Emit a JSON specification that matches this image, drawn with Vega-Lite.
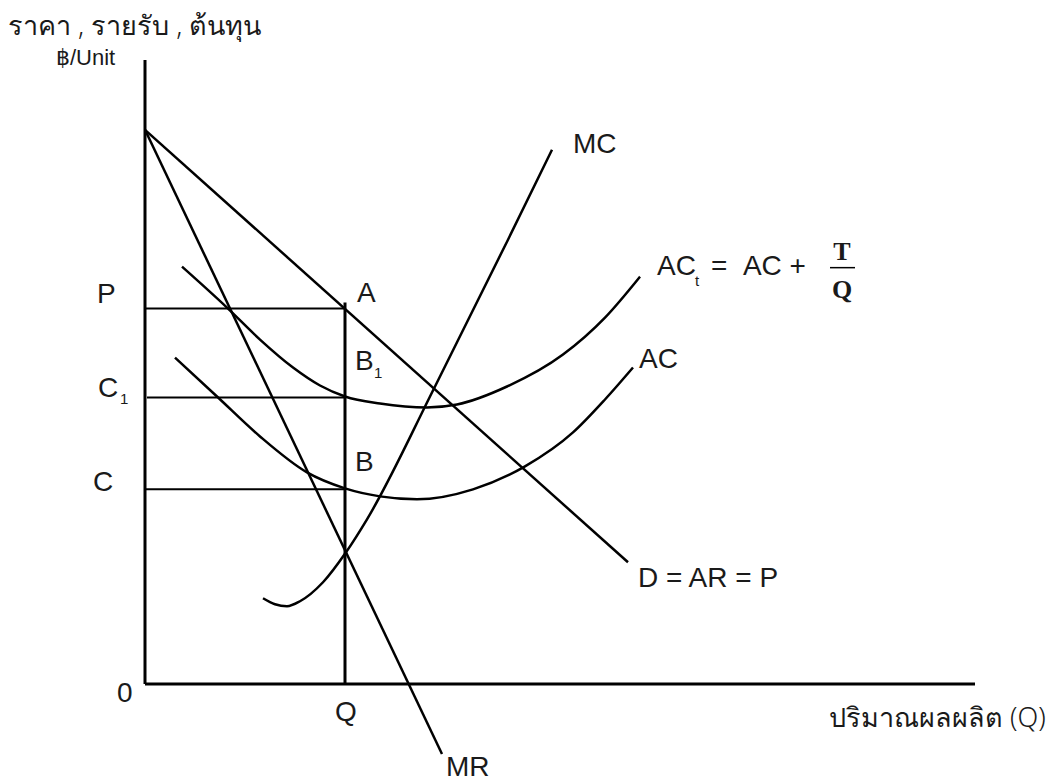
{
  "$schema": "https://vega.github.io/schema/vega-lite/v6.json",
  "width": 1059,
  "height": 782,
  "autosize": {"type": "fit", "contains": "padding"},
  "padding": 0,
  "background": "white",
  "config": {"view": {"stroke": null}},
  "datasets": {
    "segs": [
      {"name": "yaxis", "kind": "axis", "x1": 0, "y1": 0, "x2": 0, "y2": 625},
      {"name": "xaxis", "kind": "axis", "x1": 0, "y1": 0, "x2": 830, "y2": 0},
      {"name": "Qline", "kind": "axis", "x1": 200, "y1": 0, "x2": 200, "y2": 382},
      {"name": "Pline", "kind": "guide", "x1": 0, "y1": 376, "x2": 200, "y2": 376},
      {"name": "C1line", "kind": "guide", "x1": 2, "y1": 287, "x2": 200, "y2": 287},
      {"name": "Cline", "kind": "guide", "x1": 0, "y1": 195, "x2": 200, "y2": 195},
      {"name": "D", "kind": "curve", "x1": 0, "y1": 555, "x2": 483, "y2": 122},
      {"name": "MR", "kind": "curve", "x1": 0, "y1": 555, "x2": 297, "y2": -70},
      {"name": "bar", "kind": "frac", "x1": 685, "y1": 417, "x2": 710, "y2": 417}
    ],
    "curves": [
      {"series": "ACt", "i": 0, "x": 37, "y": 418},
      {"series": "ACt", "i": 1, "x": 82, "y": 377},
      {"series": "ACt", "i": 2, "x": 115, "y": 345},
      {"series": "ACt", "i": 3, "x": 148, "y": 317},
      {"series": "ACt", "i": 4, "x": 175, "y": 299},
      {"series": "ACt", "i": 5, "x": 200, "y": 288},
      {"series": "ACt", "i": 6, "x": 235, "y": 281},
      {"series": "ACt", "i": 7, "x": 282, "y": 277},
      {"series": "ACt", "i": 8, "x": 312, "y": 280},
      {"series": "ACt", "i": 9, "x": 362, "y": 298},
      {"series": "ACt", "i": 10, "x": 418, "y": 330},
      {"series": "ACt", "i": 11, "x": 460, "y": 367},
      {"series": "ACt", "i": 12, "x": 495, "y": 408},
      {"series": "AC", "i": 0, "x": 30, "y": 327},
      {"series": "AC", "i": 1, "x": 72, "y": 288},
      {"series": "AC", "i": 2, "x": 115, "y": 248},
      {"series": "AC", "i": 3, "x": 162, "y": 212},
      {"series": "AC", "i": 4, "x": 200, "y": 196},
      {"series": "AC", "i": 5, "x": 235, "y": 188},
      {"series": "AC", "i": 6, "x": 272, "y": 185},
      {"series": "AC", "i": 7, "x": 328, "y": 195},
      {"series": "AC", "i": 8, "x": 380, "y": 218},
      {"series": "AC", "i": 9, "x": 428, "y": 252},
      {"series": "AC", "i": 10, "x": 460, "y": 285},
      {"series": "AC", "i": 11, "x": 488, "y": 317},
      {"series": "MC", "i": 0, "x": 118, "y": 86},
      {"series": "MC", "i": 1, "x": 130, "y": 80},
      {"series": "MC", "i": 2, "x": 142, "y": 78},
      {"series": "MC", "i": 3, "x": 155, "y": 83},
      {"series": "MC", "i": 4, "x": 178, "y": 102},
      {"series": "MC", "i": 5, "x": 201, "y": 132},
      {"series": "MC", "i": 6, "x": 222, "y": 165},
      {"series": "MC", "i": 7, "x": 290, "y": 298},
      {"series": "MC", "i": 8, "x": 363, "y": 445},
      {"series": "MC", "i": 9, "x": 407, "y": 535}
    ],
    "labels": [
      {"label": "MC", "x": 428, "y": 532},
      {"label": "AC", "x": 512, "y": 410},
      {"label": "=\u00a0\u00a0AC +", "x": 566, "y": 410},
      {"label": "AC", "x": 494, "y": 317},
      {"label": "D = AR = P", "x": 493, "y": 97},
      {"label": "A", "x": 212, "y": 383},
      {"label": "B", "x": 210, "y": 315},
      {"label": "C", "x": -47, "y": 287},
      {"label": "P", "x": -48, "y": 382},
      {"label": "C", "x": -52, "y": 193},
      {"label": "B", "x": 210, "y": 213},
      {"label": "0", "x": -28, "y": -18},
      {"label": "Q", "x": 190, "y": -37},
      {"label": "MR", "x": 301, "y": -92}
    ],
    "subs": [
      {"label": "t", "x": 550, "y": 399},
      {"label": "1", "x": 229, "y": 307},
      {"label": "1", "x": -25, "y": 280}
    ],
    "thai": [
      {"label": "ราคา , รายรับ , ต้นทุน", "x": -137, "y": 650},
      {"label": "ปริมาณผลผลิต (Q)", "x": 684, "y": -43}
    ],
    "unit": [
      {"label": "฿/Unit", "x": -89, "y": 620}
    ],
    "frac": [
      {"label": "T", "x": 697, "y": 425},
      {"label": "Q", "x": 697, "y": 387}
    ]
  },
  "layer": [
    {
      "data": {"name": "segs"},
      "transform": [{"filter": "datum.kind === 'axis'"}],
      "mark": {"type": "rule", "strokeWidth": 3, "color": "black"},
      "encoding": {
        "x": {"field": "x1", "type": "quantitative", "scale": {"domain": [-145, 914], "nice": false, "zero": false}, "axis": null},
        "y": {"field": "y1", "type": "quantitative", "scale": {"domain": [-97, 685], "nice": false, "zero": false}, "axis": null},
        "x2": {"field": "x2"},
        "y2": {"field": "y2"}
      }
    },
    {
      "data": {"name": "segs"},
      "transform": [{"filter": "datum.kind === 'guide'"}],
      "mark": {"type": "rule", "strokeWidth": 2, "color": "black"},
      "encoding": {
        "x": {"field": "x1", "type": "quantitative"},
        "y": {"field": "y1", "type": "quantitative"},
        "x2": {"field": "x2"},
        "y2": {"field": "y2"}
      }
    },
    {
      "data": {"name": "segs"},
      "transform": [{"filter": "datum.kind === 'curve'"}],
      "mark": {"type": "rule", "strokeWidth": 2.5, "color": "black"},
      "encoding": {
        "x": {"field": "x1", "type": "quantitative"},
        "y": {"field": "y1", "type": "quantitative"},
        "x2": {"field": "x2"},
        "y2": {"field": "y2"}
      }
    },
    {
      "data": {"name": "segs"},
      "transform": [{"filter": "datum.kind === 'frac'"}],
      "mark": {"type": "rule", "strokeWidth": 1.5, "color": "black"},
      "encoding": {
        "x": {"field": "x1", "type": "quantitative"},
        "y": {"field": "y1", "type": "quantitative"},
        "x2": {"field": "x2"},
        "y2": {"field": "y2"}
      }
    },
    {
      "data": {"name": "curves"},
      "mark": {"type": "line", "strokeWidth": 2.5, "color": "black", "interpolate": "monotone"},
      "encoding": {
        "x": {"field": "x", "type": "quantitative"},
        "y": {"field": "y", "type": "quantitative"},
        "detail": {"field": "series"},
        "order": {"field": "i", "type": "quantitative"}
      }
    },
    {
      "data": {"name": "labels"},
      "mark": {"type": "text", "align": "left", "baseline": "alphabetic", "font": "Liberation Sans", "fontSize": 28, "color": "#1a1a1a"},
      "encoding": {
        "x": {"field": "x", "type": "quantitative"},
        "y": {"field": "y", "type": "quantitative"},
        "text": {"field": "label"}
      }
    },
    {
      "data": {"name": "subs"},
      "mark": {"type": "text", "align": "left", "baseline": "alphabetic", "font": "Liberation Sans", "fontSize": 15, "color": "#1a1a1a"},
      "encoding": {
        "x": {"field": "x", "type": "quantitative"},
        "y": {"field": "y", "type": "quantitative"},
        "text": {"field": "label"}
      }
    },
    {
      "data": {"name": "thai"},
      "mark": {"type": "text", "align": "left", "baseline": "alphabetic", "font": "Noto Sans", "fontSize": 27, "fontWeight": 300, "color": "#1a1a1a"},
      "encoding": {
        "x": {"field": "x", "type": "quantitative"},
        "y": {"field": "y", "type": "quantitative"},
        "text": {"field": "label"}
      }
    },
    {
      "data": {"name": "unit"},
      "mark": {"type": "text", "align": "left", "baseline": "alphabetic", "font": "Liberation Sans", "fontSize": 22, "color": "#1a1a1a"},
      "encoding": {
        "x": {"field": "x", "type": "quantitative"},
        "y": {"field": "y", "type": "quantitative"},
        "text": {"field": "label"}
      }
    },
    {
      "data": {"name": "frac"},
      "mark": {"type": "text", "align": "center", "baseline": "alphabetic", "font": "Liberation Serif", "fontWeight": "bold", "fontSize": 26, "color": "#1a1a1a"},
      "encoding": {
        "x": {"field": "x", "type": "quantitative"},
        "y": {"field": "y", "type": "quantitative"},
        "text": {"field": "label"}
      }
    }
  ]
}
